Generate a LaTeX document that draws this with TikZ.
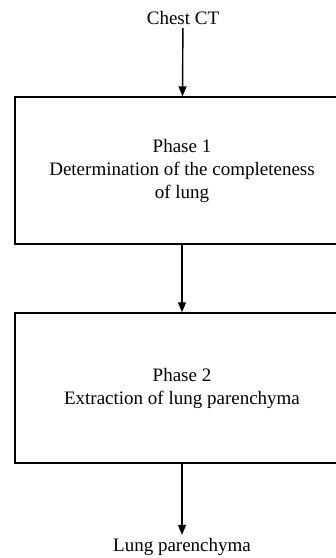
\documentclass[tikz,border=0pt]{standalone}
\usepackage{fontspec}
\setmainfont{Liberation Serif}
\usetikzlibrary{arrows.meta}
\begin{document}
\begin{tikzpicture}[x=1pt,y=-1pt,
  every node/.style={font=\fontsize{19}{23}\selectfont},
  phasebox/.style={draw,line width=1.4pt,minimum width=334pt,align=center,inner sep=0pt},
  flow/.style={line width=1.4pt,-{Triangle[width=8pt,length=10pt]}}]
\useasboundingbox (0,0) rectangle (336,558);
\clip (0,0) rectangle (336,558);
\node (ct) at (183,18) {Chest CT};
\node[phasebox,minimum height=147pt] (p1) at (182,170.5) {Phase 1\\Determination of the completeness\\of lung};
\node[phasebox,minimum height=150pt] (p2) at (182,388) {Phase 2\\Extraction of lung parenchyma};
\node (lp) at (182,547) {Lung parenchyma};
\draw[flow] (ct) -- (p1);
\draw[flow] (p1) -- (p2);
\draw[flow] (p2) -- (lp);
\end{tikzpicture}
\end{document}
